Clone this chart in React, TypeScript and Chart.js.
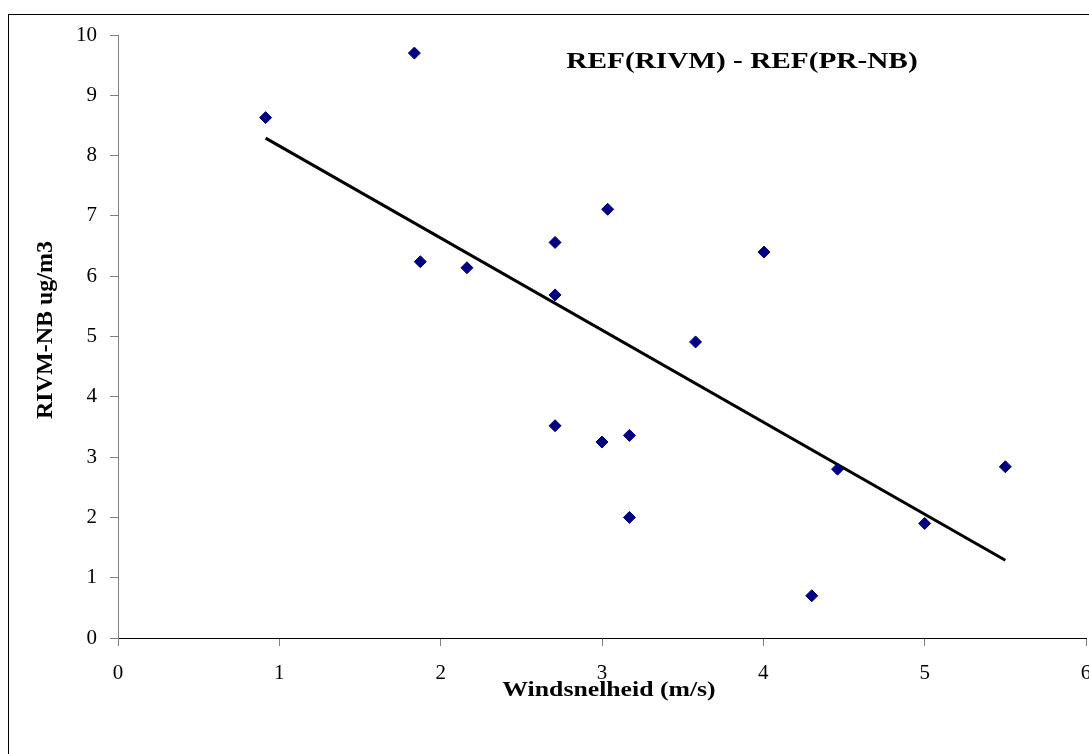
import React, { useEffect, useRef } from "react";
import { Chart, registerables } from "chart.js";

Chart.register(...registerables);

// Wind speed (m/s) of each measurement
const windSpeed = [
  0.915, 1.837, 1.874, 2.163, 2.709, 2.709, 2.709, 3.0, 3.035, 3.17, 3.17,
  3.58, 4.004, 4.3, 4.46, 5.0, 5.5,
];
// RIVM - NB difference (ug/m3)
const difference = [
  8.63, 9.7, 6.24, 6.14, 6.56, 5.69, 3.52, 3.25, 7.11, 3.36, 2.0, 4.91, 6.4,
  0.7, 2.8, 1.9, 2.84,
];
// Trend line end points
const trendX = [0.915, 5.5];
const trendY = [8.29, 1.29];

const chartTitle = "REF(RIVM) - REF(PR-NB)";
const xTitle = "Windsnelheid (m/s)";
const yTitle = "RIVM-NB ug/m3";

const serif = "'Liberation Serif', 'Times New Roman', serif";

function drawStretched(
  ctx: CanvasRenderingContext2D,
  text: string,
  x: number,
  y: number,
  size: number,
  stretch: number,
  rotation: number
) {
  ctx.save();
  ctx.translate(x, y);
  ctx.rotate(rotation);
  ctx.scale(stretch, 1);
  ctx.font = `bold ${size}px ${serif}`;
  ctx.fillStyle = "#000";
  ctx.textAlign = "center";
  ctx.textBaseline = "middle";
  ctx.fillText(text, 0, 0);
  ctx.restore();
}

const titlePlugin = {
  id: "freeTitles",
  afterDraw(chart: any) {
    const ctx = chart.ctx as CanvasRenderingContext2D;
    drawStretched(ctx, chartTitle, 733, 47, 24, 1.22, 0);
    drawStretched(ctx, xTitle, 600, 675, 22, 1.17, 0);
    drawStretched(ctx, yTitle, 37, 315, 24, 1.0, -Math.PI / 2);
  },
};

export default function App() {
  const ref = useRef<HTMLCanvasElement>(null);

  useEffect(() => {
    if (!ref.current) return;
    const chart = new Chart(ref.current, {
      type: "scatter",
      data: {
        datasets: [
          {
            label: "data",
            data: windSpeed.map((x, i) => ({ x, y: difference[i] })),
            pointStyle: "rectRot",
            pointRadius: 6,
            pointBackgroundColor: "#000080",
            pointBorderColor: "#000080",
            pointBorderWidth: 1,
            showLine: false,
          },
          {
            label: "trend",
            data: trendX.map((x, i) => ({ x, y: trendY[i] })),
            showLine: true,
            borderColor: "#000",
            borderWidth: 3,
            pointRadius: 0,
            fill: false,
          },
        ],
      },
      options: {
        responsive: false,
        animation: false,
        devicePixelRatio: 1,
        layout: { padding: { left: 0, top: 20, right: 33, bottom: 0 } },
        plugins: {
          legend: { display: false },
          tooltip: { enabled: false },
        },
        scales: {
          x: {
            type: "linear",
            min: 0,
            max: 6,
            afterFit(scale: any) {
              scale.height = 137;
            },
            ticks: {
              stepSize: 1,
              padding: 15,
              color: "#000",
              font: { family: serif, size: 21 },
            },
            grid: {
              drawOnChartArea: false,
              drawTicks: true,
              tickLength: 8,
              color: "#808080",
            },
            border: { color: "#000", width: 1 },
            title: { display: false, text: xTitle },
          },
          y: {
            type: "linear",
            min: 0,
            max: 10,
            afterFit(scale: any) {
              scale.width = 109;
              scale.paddingTop = 0;
              scale.paddingBottom = 0;
            },
            ticks: {
              stepSize: 1,
              padding: 13,
              color: "#000",
              font: { family: serif, size: 21 },
            },
            grid: {
              drawOnChartArea: false,
              drawTicks: true,
              tickLength: 8,
              color: "#808080",
            },
            border: { color: "#808080", width: 1 },
            title: { display: false, text: yTitle },
          },
        },
      },
      plugins: [titlePlugin],
    } as any);
    return () => chart.destroy();
  }, []);

  return (
    <div
      style={{
        position: "absolute",
        left: 0,
        top: 0,
        width: 1089,
        height: 754,
        overflow: "hidden",
        background: "#fff",
      }}
    >
      <div
        style={{
          position: "absolute",
          left: 8,
          top: 14,
          width: 1110,
          height: 760,
          border: "1px solid #000",
        }}
      >
        <canvas ref={ref} width={1110} height={760} style={{ display: "block" }} />
      </div>
    </div>
  );
}
